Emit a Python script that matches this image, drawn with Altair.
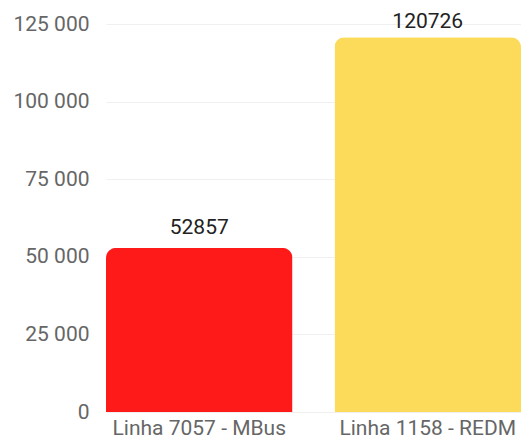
import altair as alt
import pandas as pd

categories = ["Linha 7057 - MBus", "Linha 1158 - REDM"]
values = [52857, 120726]
colors = ["#ff1a1a", "#fddb5a"]
y_ticks = [0, 25000, 50000, 75000, 100000, 125000]

df = pd.DataFrame({"cat": categories, "val": values, "color": colors})

x = alt.X("cat:N", sort=categories, title=None,
          scale=alt.Scale(paddingInner=0.184, paddingOuter=0),
          axis=alt.Axis(labelAngle=0, labelFontSize=21, labelColor="#666666",
                        labelFont="Roboto", ticks=False, tickSize=0, domain=False,
                        labelPadding=5, grid=False))
y = alt.Y("val:Q", title=None,
          scale=alt.Scale(domain=[0, 125000], nice=False),
          axis=alt.Axis(values=y_ticks, labelFontSize=21, labelColor="#666666",
                        labelFont="Roboto", ticks=False, tickSize=0, domain=False,
                        labelPadding=17, gridColor="#f0f0f0",
                        labelExpr="replace(format(datum.value, ','), ',', ' ')"))

bars = alt.Chart(df).mark_bar(cornerRadiusTopLeft=10, cornerRadiusTopRight=10).encode(
    x=x, y=y, color=alt.Color("color:N", scale=None)
)

def value_labels(cat, dy):
    return alt.Chart(df).transform_filter(alt.datum.cat == cat).mark_text(
        baseline="bottom", dy=dy, fontSize=21, font="Roboto", color="#222222"
    ).encode(x=alt.X("cat:N", sort=categories), y="val:Q", text="val:Q")

labels = value_labels(categories[0], -10) + value_labels(categories[1], -5)

chart = (bars + labels).properties(
    width=415, height=388,
    background="white",
    autosize=alt.AutoSizeParams(type="none"),
    padding={"left": 98, "top": 16, "right": 0, "bottom": 28},
).configure_view(stroke=None)

chart.save("out.html", embed_options={"renderer": "svg", "actions": False})
